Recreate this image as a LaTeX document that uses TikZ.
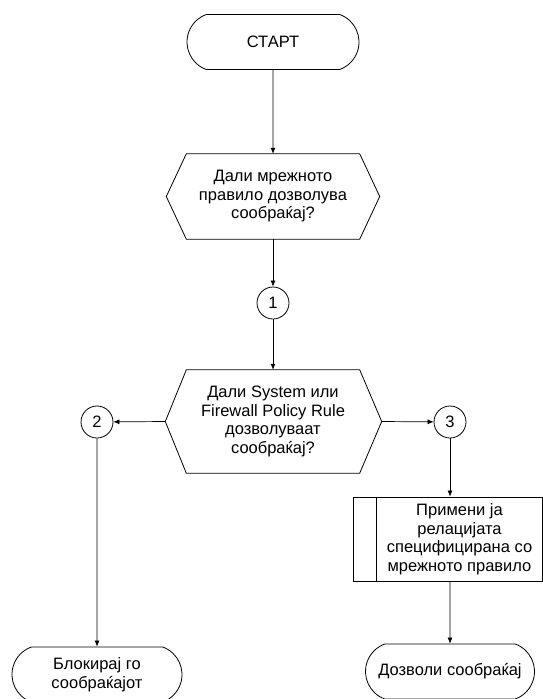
\documentclass[tikz,border=0pt]{standalone}
\usepackage{fontspec}
\setmainfont{Liberation Sans}
\usetikzlibrary{shapes.misc,arrows.meta}
\begin{document}
\begin{tikzpicture}[x=1pt,y=-1pt,
  txt/.style={font=\fontsize{16.5}{18.5}\selectfont, align=center, inner sep=0pt},
  term/.style={txt, draw, rounded rectangle, rounded rectangle arc length=140, minimum height=55pt, line width=0.8pt},
  hexa/.style={txt, minimum width=173pt},
  conn/.style={txt, draw, circle, minimum size=32pt, line width=0.8pt},
  arr/.style={-{Latex[length=6pt,width=5pt]}, line width=0.7pt},
  outl/.style={line width=0.8pt}]
\useasboundingbox (0,0) rectangle (543,699);

% START
\node[term, minimum width=172pt] (start) at (273,42) {СТАРТ};

% decision 1
\node[hexa, minimum height=85pt] (d1) at (273,196.5) {Дали мрежното\\правило дозволува\\сообраќај?};
\coordinate (d1l) at ([xshift=-20pt]d1.west);
\coordinate (d1r) at ([xshift=20pt]d1.east);
\draw[outl] (d1.north west) -- (d1.north east) -- (d1r) -- (d1.south east) -- (d1.south west) -- (d1l) -- cycle;

% connector 1
\node[conn] (c1) at (273,303) {1};

% decision 2
\node[hexa, minimum height=103pt] (d2) at (273,421.5) {Дали System или\\Firewall Policy Rule\\дозволуваат\\сообраќај?};
\coordinate (d2l) at ([xshift=-21pt]d2.west);
\coordinate (d2r) at ([xshift=22pt]d2.east);
\draw[outl] (d2.north west) -- (d2.north east) -- (d2r) -- (d2.south east) -- (d2.south west) -- (d2l) -- cycle;

% connectors 2 and 3
\node[conn] (c2) at (97,422) {2};
\node[conn] (c3) at (450,422) {3};

% predefined process
\node[txt, draw, outl, minimum width=189pt, minimum height=84pt] (proc) at (447.5,539) {};
\draw[outl] ([xshift=24pt]proc.north west) -- ([xshift=24pt]proc.south west);
\node[txt] (proctext) at (459.5,539) {Примени ја\\релацијата\\специфицирана со\\мрежното правило};

% end terminals
\node[term, minimum width=170pt] (block) at (97,674.5) {Блокирај го\\сообраќајот};
\node[term, minimum width=169pt] (allow) at (450,671.5) {Дозволи сообраќај};

% arrows
\draw[arr] (start) -- (d1);
\draw[arr] (d1) -- (c1);
\draw[arr] (c1) -- (d2);
\draw[arr] (d2l) -- (c2);
\draw[arr] (d2r) -- (c3);
\draw[arr] (c2) -- (block);
\draw[arr] (c3) -- (c3 |- proc.north);
\draw[arr] (c3 |- proc.south) -- (allow);
\end{tikzpicture}
\end{document}
